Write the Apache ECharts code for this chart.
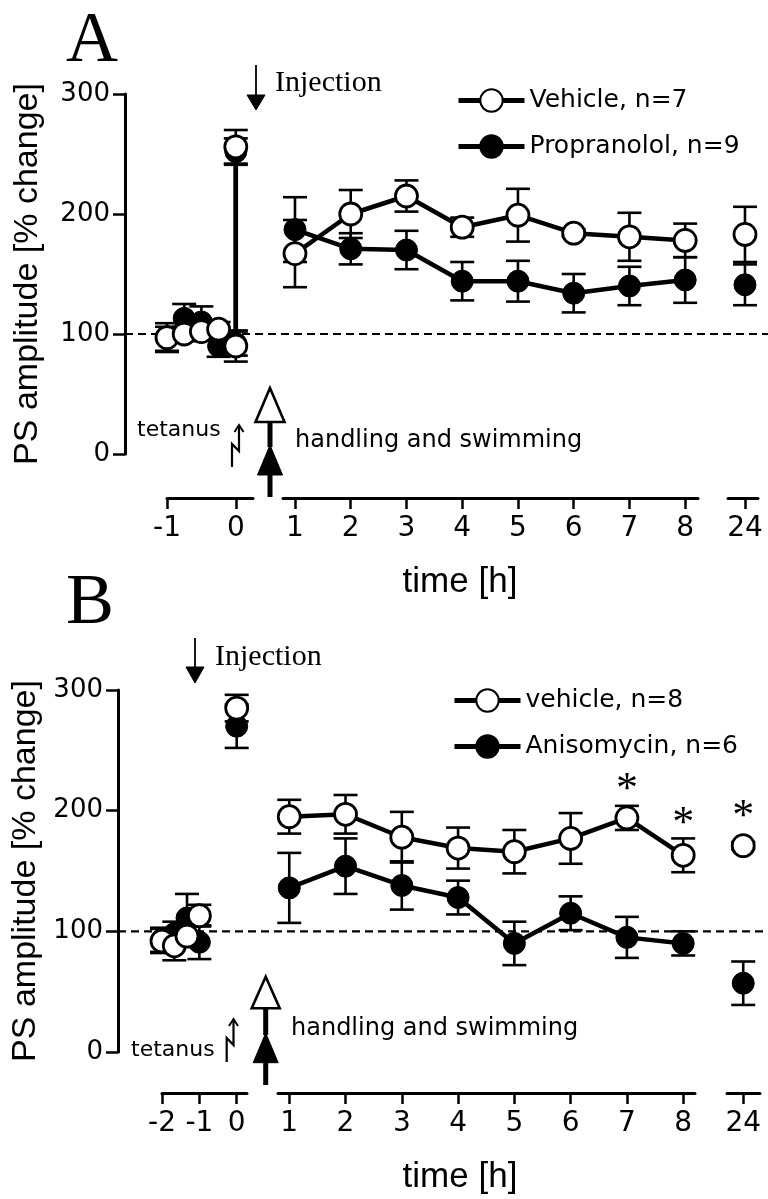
<!DOCTYPE html>
<html>
<head>
<meta charset="utf-8">
<script src="https://cdn.jsdelivr.net/npm/echarts@6/dist/echarts.min.js"></script>
<style>html,body{margin:0;padding:0;background:#fff;}#c{width:768px;height:1199px;}</style>
</head>
<body>
<div id="c"></div>
<script>
// ---------------- Panel A data ----------------
const A_names = ['Vehicle, n=7', 'Propranolol, n=9'];
const A_preTime = [-1, -0.75, -0.5, -0.25, 0];
const A_vehPre = [97, 100, 102, 104, 90];
const A_vehPreErr = [12, 6, 7, 6, 13];
const A_proPre = [96, 113, 110, 90, 92];
const A_proPreErr = [10, 12, 13, 9, 10];
const A_postTime = [0];
const A_vehPost = [256];
const A_vehPostErr = [14];
const A_proPost = [252];
const A_proPostErr = [11];
const A_hours = [1, 2, 3, 4, 5, 6, 7, 8];
const A_veh = [167, 200, 215, 189, 199, 184, 181, 178];
const A_vehErr = [28, 20, 13, 8, 22, 3, 20, 14];
const A_pro = [187, 171, 170, 144, 144, 134, 140, 145];
const A_proErr = [27, 13, 16, 16, 17, 16, 16, 19];
const A_day = [24];
const A_veh24 = [183];
const A_veh24Err = [23];
const A_pro24 = [141];
const A_pro24Err = [17];

// ---------------- Panel B data ----------------
const B_names = ['vehicle, n=8', 'Anisomycin, n=6'];
const B_preTime = [-2, -1.67, -1.33, -1];
const B_vehPre = [92, 88, 96, 113];
const B_vehPreErr = [10, 12, 8, 9];
const B_aniPre = [93, 98, 111, 91];
const B_aniPreErr = [10, 10, 20, 14];
const B_postTime = [0];
const B_vehPost = [285];
const B_vehPostErr = [11];
const B_aniPost = [270];
const B_aniPostErr = [18];
const B_hours = [1, 2, 3, 4, 5, 6, 7, 8];
const B_veh = [195, 197, 178, 169, 166, 177, 194, 163];
const B_vehErr = [14, 16, 21, 17, 18, 21, 10, 14];
const B_ani = [136, 154, 138, 128, 90, 115, 95, 90];
const B_aniErr = [29, 23, 20, 14, 18, 14, 17, 10];
const B_day = [24];
const B_veh24 = [171];
const B_veh24Err = [3];
const B_ani24 = [57];
const B_ani24Err = [18];
const B_sigTime = [7, 8, 24];
const B_sigLevel = [224, 196, 202];

// shared axis data
const yTicks = [0, 100, 200, 300];
const baselineLevel = 100;

// ---------------- layout ----------------
const SANS = 'DejaVu Sans';
const ARIAL = 'Liberation Sans';
const SERIF = 'Liberation Serif';

const layoutA = { top: 94, height: 360, yLeft: 125, xOff: 44, nameGap: 80,
  segs: [
    { left: 167, width: 86, min: -1, max: 0.25, ticks: [-1, 0] },
    { left: 283, width: 415, min: 0.785, max: 8.23, ticks: A_hours },
    { left: 728, width: 30, min: 23.7, max: 24.23, ticks: A_day }
  ] };
const layoutB = { top: 690, height: 362, yLeft: 118, xOff: 41, nameGap: 75,
  segs: [
    { left: 162, width: 85, min: -2, max: 0.276, ticks: [-2, -1, 0] },
    { left: 278, width: 417, min: 0.8, max: 8.21, ticks: B_hours },
    { left: 727, width: 33, min: 23.71, max: 24.3, ticks: B_day }
  ] };

const grids = [], xAxes = [], yAxes = [];
function buildPanel(L) {
  const base = grids.length;
  L.segs.forEach(s => {
    grids.push({ left: s.left, top: L.top, width: s.width, height: L.height });
    xAxes.push({
      type: 'value', gridIndex: grids.length - 1, min: s.min, max: s.max,
      position: 'bottom', offset: L.xOff,
      axisLine: { show: true, onZero: false, lineStyle: { color: '#000', width: 3 } },
      axisTick: { show: true, customValues: s.ticks, length: 11, lineStyle: { color: '#000', width: 2.5 } },
      axisLabel: { customValues: s.ticks, margin: 17, color: '#000', fontSize: 28, fontFamily: SANS,
        formatter: v => String(v) },
      splitLine: { show: false }
    });
    yAxes.push({ type: 'value', gridIndex: grids.length - 1, min: 0, max: 300, show: false, splitLine: { show: false } });
  });
  // overlay grid carrying the visible y axis and the baseline
  grids.push({ left: L.yLeft, top: L.top, width: 768 - L.yLeft, height: L.height });
  xAxes.push({ type: 'value', gridIndex: grids.length - 1, min: 0, max: 1, show: false, splitLine: { show: false } });
  yAxes.push({
    type: 'value', gridIndex: grids.length - 1, min: 0, max: 300, interval: 100,
    name: 'PS amplitude [% change]', nameLocation: 'middle', nameGap: L.nameGap, nameRotate: 90,
    nameTextStyle: { fontSize: 34, fontFamily: ARIAL, color: '#000' },
    axisLine: { show: true, lineStyle: { color: '#000', width: 3 } },
    axisTick: { show: true, length: 12, lineStyle: { color: '#000', width: 2.5 } },
    axisLabel: { color: '#000', fontSize: 26, fontFamily: SANS, margin: 15,
      customValues: yTicks, formatter: v => String(v) },
    splitLine: { show: false }
  });
  return base;
}
const gA = buildPanel(layoutA);
const gB = buildPanel(layoutB);

// ---------------- series helpers ----------------
function pts(xs, ys) { return xs.map((x, i) => [x, ys[i]]); }
function markS(name, gi, data, open, connect) {
  return {
    type: connect ? 'line' : 'scatter', name, xAxisIndex: gi, yAxisIndex: gi, data,
    symbol: 'circle', symbolSize: 22, clip: false, silent: true,
    itemStyle: open ? { color: '#fff', borderColor: '#000', borderWidth: 2.8, opacity: 1 }
                    : { color: '#000', borderColor: '#000', borderWidth: 1, opacity: 1 },
    lineStyle: { color: '#000', width: 4.5 },
    z: open ? 5 : 4
  };
}
function errRender(params, api) {
  const x = api.value(0), lo = api.value(1), hi = api.value(2);
  const p1 = api.coord([x, hi]), p2 = api.coord([x, lo]);
  const hw = 12;
  const st = { stroke: '#000', lineWidth: 2.6 };
  return { type: 'group', children: [
    { type: 'line', shape: { x1: p1[0], y1: p1[1], x2: p2[0], y2: p2[1] }, style: st },
    { type: 'line', shape: { x1: p1[0] - hw, y1: p1[1], x2: p1[0] + hw, y2: p1[1] }, style: st },
    { type: 'line', shape: { x1: p2[0] - hw, y1: p2[1], x2: p2[0] + hw, y2: p2[1] }, style: st }
  ] };
}
function errS(gi, xs, ys, es) {
  return { type: 'custom', xAxisIndex: gi, yAxisIndex: gi, z: 2, silent: true, clip: false,
    encode: { x: 0, y: [1, 2] },
    data: xs.map((x, i) => [x, ys[i] - es[i], ys[i] + es[i]]), renderItem: errRender };
}
function baseline(gi) {
  return { type: 'line', xAxisIndex: gi, yAxisIndex: gi, data: [[0, baselineLevel], [1, baselineLevel]],
    symbol: 'none', silent: true, z: 1, lineStyle: { color: '#000', width: 2.2, type: [8, 5] } };
}

const series = [
  // Panel A: line series first (legend icons)
  markS(A_names[0], gA + 1, pts(A_hours, A_veh), true, true),
  markS(A_names[1], gA + 1, pts(A_hours, A_pro), false, true),
  markS(A_names[1], gA, pts(A_preTime, A_proPre).concat(pts(A_postTime, A_proPost)), false, true),
  markS(A_names[0], gA, pts(A_preTime, A_vehPre).concat(pts(A_postTime, A_vehPost)), true, true),
  markS(A_names[1], gA + 2, pts(A_day, A_pro24), false, false),
  markS(A_names[0], gA + 2, pts(A_day, A_veh24), true, false),
  errS(gA, A_preTime, A_vehPre, A_vehPreErr),
  errS(gA, A_preTime, A_proPre, A_proPreErr),
  errS(gA, A_postTime, A_vehPost, A_vehPostErr),
  errS(gA, A_postTime, A_proPost, A_proPostErr),
  errS(gA + 1, A_hours, A_veh, A_vehErr),
  errS(gA + 1, A_hours, A_pro, A_proErr),
  errS(gA + 2, A_day, A_veh24, A_veh24Err),
  errS(gA + 2, A_day, A_pro24, A_pro24Err),
  baseline(gA + 3),
  // Panel B
  markS(B_names[0], gB + 1, pts(B_hours, B_veh), true, true),
  markS(B_names[1], gB + 1, pts(B_hours, B_ani), false, true),
  markS(B_names[0], gB, pts(B_preTime, B_vehPre), true, true),
  markS(B_names[1], gB, pts(B_preTime, B_aniPre), false, true),
  markS(B_names[1], gB, pts(B_postTime, B_aniPost), false, false),
  markS(B_names[0], gB, pts(B_postTime, B_vehPost), true, false),
  markS(B_names[1], gB + 2, pts(B_day, B_ani24), false, false),
  markS(B_names[0], gB + 2, pts(B_day, B_veh24), true, false),
  errS(gB, B_preTime, B_vehPre, B_vehPreErr),
  errS(gB, B_preTime, B_aniPre, B_aniPreErr),
  errS(gB, B_postTime, B_vehPost, B_vehPostErr),
  errS(gB, B_postTime, B_aniPost, B_aniPostErr),
  errS(gB + 1, B_hours, B_veh, B_vehErr),
  errS(gB + 1, B_hours, B_ani, B_aniErr),
  errS(gB + 2, B_day, B_veh24, B_veh24Err),
  errS(gB + 2, B_day, B_ani24, B_ani24Err),
  baseline(gB + 3)
];
// significance asterisks
function sigS(gi, xs, ys) {
  return { type: 'scatter', xAxisIndex: gi, yAxisIndex: gi, data: pts(xs, ys), symbol: 'circle', symbolSize: 1,
    silent: true, clip: false, z: 6, itemStyle: { color: 'rgba(0,0,0,0)', opacity: 1 },
    label: { show: true, position: 'inside', formatter: '*', fontSize: 44, fontFamily: SERIF,
      color: '#000', opacity: 1, offset: [0, 9] } };
}
series.push(sigS(gB + 1, B_sigTime.slice(0, 2), B_sigLevel.slice(0, 2)));
series.push(sigS(gB + 2, B_sigTime.slice(2), B_sigLevel.slice(2)));

// ---------------- annotations ----------------
function txt(text, x, y, size, family, align) {
  return { type: 'text', silent: true, z: 10,
    style: { text, x, y, fontSize: size, fontFamily: family, fill: '#000',
      textAlign: align || 'left', textVerticalAlign: 'middle', verticalAlign: 'middle' } };
}
function pline(points, w) {
  return { type: 'polyline', silent: true, z: 10, shape: { points },
    style: { stroke: '#000', lineWidth: w, fill: null, lineJoin: 'miter' } };
}
function poly(points, fill, w) {
  return { type: 'polygon', silent: true, z: 10, shape: { points },
    style: { fill, stroke: '#000', lineWidth: w } };
}
function handlingArrow(x, apex1, base1, apex2, base2, end, hw1, hw2) {
  return [
    pline([[x, base1], [x, apex2 + 2]], 5),
    pline([[x, base2], [x, end]], 5),
    poly([[x, apex1], [x - hw1, base1], [x + hw1, base1]], '#fff', 2.6),
    poly([[x, apex2], [x - hw2, base2], [x + hw2, base2]], '#000', 1)
  ];
}
function injectionArrow(x, y0, y1, y2) {
  return [pline([[x, y0], [x, y1]], 1.8), poly([[x - 9, y1], [x + 9, y1], [x, y2]], '#000', 1)];
}
function tetanus(x1, x2, yb, ym1, ym2, yt) {
  return [
    pline([[x1, yb], [x1, ym1], [x2, ym2], [x2, yt]], 2.2),
    pline([[x2 - 4.5, yt + 7], [x2, yt], [x2 + 4.5, yt + 7]], 2)
  ];
}

const graphic = [
  txt('A', 66, 42, 72, SERIF),
  txt('Injection', 275, 83, 30, SERIF),
  ...injectionArrow(256, 65, 95, 110),
  txt('tetanus', 137, 430, 22, SANS),
  ...tetanus(232, 239, 467, 444, 451, 425),
  ...handlingArrow(270, 388, 422, 445, 475, 497, 14.5, 12.5),
  txt('handling and swimming', 295, 441, 24, SANS),
  txt('time [h]', 460, 582, 35, ARIAL, 'center'),

  txt('B', 66, 604, 72, SERIF),
  txt('Injection', 215, 657, 30, SERIF),
  ...injectionArrow(195, 638, 667, 683),
  txt('tetanus', 131, 1050, 22, SANS),
  ...tetanus(226.7, 233.5, 1062, 1038, 1045, 1019),
  ...handlingArrow(265.7, 976.7, 1008.3, 1033, 1062.7, 1085, 14, 12.5),
  txt('handling and swimming', 291, 1029, 24, SANS),
  txt('time [h]', 460, 1177, 35, ARIAL, 'center')
];

const legendBase = { orient: 'vertical', itemWidth: 66, itemHeight: 28, itemGap: 21, selectedMode: false,
  lineStyle: { width: 5, color: '#000' },
  textStyle: { fontSize: 25, fontFamily: SANS, color: '#000' }, padding: 0 };

const option = {
  animation: false,
  backgroundColor: '#fff',
  grid: grids,
  xAxis: xAxes,
  yAxis: yAxes,
  legend: [
    Object.assign({}, legendBase, { data: A_names, left: 456, top: 88 }),
    Object.assign({}, legendBase, { data: B_names, left: 452, top: 688 })
  ],
  series,
  graphic
};

const chart = echarts.init(document.getElementById('c'), null, { renderer: 'canvas' });
chart.setOption(option);
</script>
</body>
</html>
